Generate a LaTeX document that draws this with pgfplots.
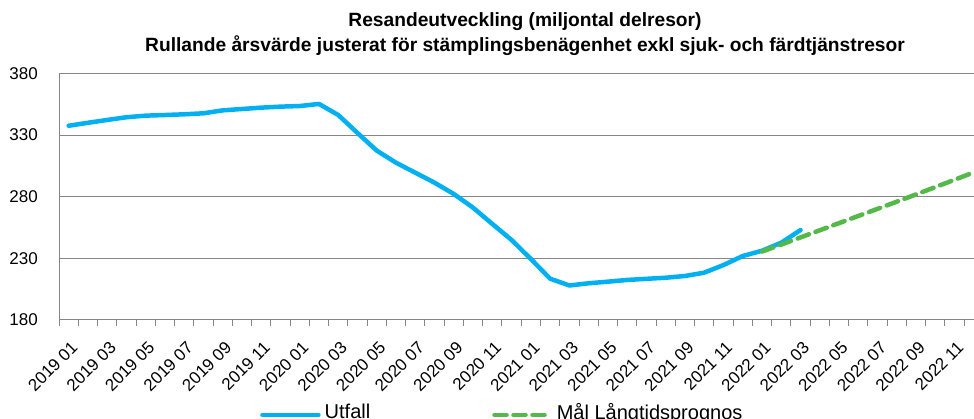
\documentclass[border=0pt]{standalone}
\usepackage{pgfplots}
\usepackage{pgfplotstable}
\pgfplotsset{compat=1.18}
\usepackage{fontspec}
\setmainfont{Liberation Sans}
\definecolor{blu}{RGB}{0,176,240}
\definecolor{grn}{RGB}{84,185,72}
\definecolor{gridc}{RGB}{134,134,134}
\pgfplotstableread{
x y
1 337.6
2 340.0
3 342.3
4 344.5
5 345.8
6 346.3
7 346.9
8 347.7
9 350.1
10 351.2
11 352.3
12 353.1
13 353.6
14 355.3
15 346.3
16 331.7
17 317.4
18 307.6
19 299.5
20 291.4
21 282.2
22 271.1
23 257.9
24 244.9
25 229.5
26 213.5
27 208.0
28 209.8
29 211.1
30 212.5
31 213.4
32 214.3
33 215.7
34 218.4
35 224.6
36 231.9
37 236.2
38 242.7
39 253.0
}\utfall
\pgfplotstableread{
x y
37 235.5
38 241.2
39 247.0
40 252.8
41 258.6
42 264.4
43 270.2
44 276.0
45 281.9
46 287.8
47 293.8
48 299.8
}\mal
\begin{document}
\begin{tikzpicture}
\useasboundingbox (0pt,0pt) rectangle (974pt,419pt);
\clip (0pt,0pt) rectangle (974pt,419pt);
\node[font=\fontsize{19.2}{20}\selectfont\bfseries, anchor=base, inner sep=0pt] at (525pt,392pt) {Resandeutveckling (miljontal delresor)};
\node[font=\fontsize{19.2}{20}\selectfont\bfseries, anchor=base, inner sep=0pt] at (525pt,367pt) {Rullande årsvärde justerat för stämplingsbenägenhet exkl sjuk- och färdtjänstresor};
\begin{axis}[
  at={(59pt,99pt)}, anchor=south west,
  scale only axis, width=924.5pt, height=246.5pt,
  xmin=0.5, xmax=48.5, ymin=180, ymax=380,
  ytick={180,230,280,330,380},
  xtick={1,3,...,47},
  xticklabels={2019 01,2019 03,2019 05,2019 07,2019 09,2019 11,2020 01,2020 03,2020 05,2020 07,2020 09,2020 11,2021 01,2021 03,2021 05,2021 07,2021 09,2021 11,2022 01,2022 03,2022 05,2022 07,2022 09,2022 11},
  minor xtick={0.5,1.5,...,48.5},
  major tick length=0pt, minor tick length=6pt, tick align=outside,
  ymajorgrids, grid style={gridc, line width=1pt},
  axis lines*=left, axis line style={gridc, line width=1pt, -},
  minor tick style={gridc, line width=1pt},
  /pgf/number format/assume math mode=true,
  tick label style={font=\fontsize{17}{17}\selectfont, text=black},
  yticklabel style={anchor=east, inner sep=0pt, xshift=-21pt},
  xticklabel style={inner sep=0pt, xshift=1.5pt, yshift=-20pt, rotate=45, anchor=north east},
  legend columns=2,
  legend style={at={(0.2174,-0.373)}, anchor=west, draw=none, fill=none, inner sep=0pt,
    font=\fontsize{20}{20}\selectfont, nodes={inner sep=0pt},
    /tikz/every odd column/.append style={column sep=4pt},
    /tikz/every even column/.append style={column sep=122pt}},
  legend cell align=left,
  legend image code/.code={\draw[#1] (0pt,-3pt) -- (56pt,-3pt);},
]
\addplot[blu, line width=4.5pt, line join=round, line cap=round] table[x=x,y=y]{\utfall};
\addlegendentry{Utfall}
\addplot[grn, line width=4.5pt, line cap=round, dash pattern=on 12pt off 7pt] table[x=x,y=y]{\mal};
\addlegendentry{Mål Långtidsprognos}
\end{axis}
\end{tikzpicture}
\end{document}
